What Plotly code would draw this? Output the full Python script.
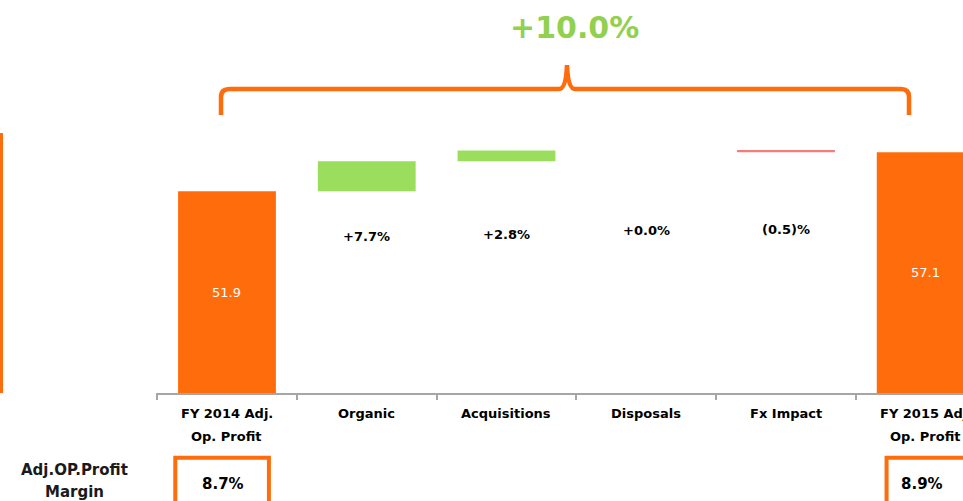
import plotly.graph_objects as go

# Datos del puente de beneficio operativo
categorias = ["FY 2014 Adj.<br>Op. Profit", "Organic", "Acquisitions", "Disposals", "Fx Impact", "FY 2015 Adj.<br>Op. Profit"]
medidas = ["absolute", "relative", "relative", "relative", "relative", "total"]
valores = [51.9, 4.0, 1.45, 0.0, -0.26, 0]
textos_barra = ["51.9", "", "", "", "", "57.1"]
totales_barra = [51.9, 0, 0, 0, 0, 57.1]
variaciones = ["", "+7.7%", "+2.8%", "+0.0%", "(0.5)%", ""]
y_variaciones = [0, 45.9, 46.2, 46.7, 46.8, 0]
margenes = ["8.7%", "", "", "", "", "8.9%"]
total_var = "+10.0%"

Y_MIN = 25
NARANJA = "#FF6C0C"
VERDE = "#9BDD5D"
ROJO = "#F47C7C"
FUENTE = "DejaVu Sans"

fig = go.Figure(go.Waterfall(
    x=list(range(len(categorias))),
    measure=medidas,
    y=valores,
    textposition="none",
    increasing=dict(marker=dict(color=VERDE)),
    decreasing=dict(marker=dict(color=ROJO)),
    totals=dict(marker=dict(color=NARANJA)),
    connector=dict(visible=False),
    hoverinfo="skip",
))

fig.update_layout(
    width=963, height=501,
    margin=dict(l=156, r=0, t=0, b=108),
    paper_bgcolor="white", plot_bgcolor="white",
    showlegend=False,
    waterfallgap=0.3,
    font=dict(family=FUENTE, color="black"),
)
fig.update_xaxes(
    type="linear", range=[-0.508, 5.267],
    showticklabels=False, showgrid=False, zeroline=False,
    showline=True, linecolor="#A6A6A6", linewidth=2,
    tickvals=[-0.5, 0.5, 1.5, 2.5, 3.5, 4.5, 5.5],
    ticks="outside", ticklen=5, tickwidth=1.5, tickcolor="#A6A6A6",
)
fig.update_yaxes(range=[Y_MIN, 77.4], visible=False)

# Valores dentro de las barras naranjas (centrados en la parte visible)
for i, (txt, v) in enumerate(zip(textos_barra, totales_barra)):
    if txt:
        fig.add_annotation(x=i, y=(Y_MIN + v) / 2, xref="x", yref="y", text=txt,
                           showarrow=False, font=dict(family=FUENTE, size=13, color="white"))

# Etiquetas de categoria (dos lineas con espaciado propio)
for i, cat in enumerate(categorias):
    for j, linea in enumerate(cat.split("<br>")):
        fig.add_annotation(x=i, y=0, xref="x", yref="paper", yshift=-20 - 23 * j,
                           yanchor="middle", text=f"<b>{linea}</b>", showarrow=False,
                           font=dict(family=FUENTE, size=13, color="black"))

# Variaciones porcentuales
for i, (txt, yv) in enumerate(zip(variaciones, y_variaciones)):
    if txt:
        fig.add_annotation(x=i, y=yv, xref="x", yref="y", text=f"<b>{txt}</b>",
                           showarrow=False, font=dict(family=FUENTE, size=13, color="black"))

# Cajas de margen
cajas = {0: (-0.37, 0.30), 5: (4.72, 5.6)}
for i, m in enumerate(margenes):
    if m:
        x0, x1 = cajas[i]
        fig.add_shape(type="rect", xref="x", yref="paper", x0=x0, x1=x1, y0=-0.165, y1=-0.4,
                      line=dict(color=NARANJA, width=4), fillcolor="white")
        fig.add_annotation(x=i - 0.03, y=0, xref="x", yref="paper",
                           yshift=-91, yanchor="middle",
                           text=f"<b>{m}</b>", showarrow=False,
                           font=dict(family=FUENTE, size=15, color="black"))

for texto, dy in [("Adj.OP.Profit", -77), ("Margin", -99)]:
    fig.add_annotation(x=0, y=0, xref="paper", yref="paper", xshift=-82, yshift=dy,
                       xanchor="center", yanchor="middle",
                       text=f"<b>{texto}</b>", showarrow=False,
                       font=dict(family=FUENTE, size=15, color="#1A1A1A"))

# Llave superior y texto total
def px(xp):
    return (xp - 156) / 807

def py(yp):
    return (393 - yp) / 393

camino = (f"M {px(221)},{py(115)} L {px(221)},{py(97)} Q {px(221)},{py(89)} {px(230)},{py(89)} "
          f"L {px(559)},{py(89)} Q {px(566)},{py(89)} {px(567)},{py(65)} "
          f"Q {px(568)},{py(89)} {px(575)},{py(89)} L {px(901)},{py(89)} "
          f"Q {px(909)},{py(89)} {px(909)},{py(97)} L {px(909)},{py(115)}")
fig.add_shape(type="path", xref="paper", yref="paper", path=camino,
              line=dict(color=NARANJA, width=4.5))
fig.add_annotation(x=px(574), y=py(28), xref="paper", yref="paper",
                   xanchor="center", yanchor="middle",
                   text=f"<b>{total_var}</b>", showarrow=False,
                   font=dict(family=FUENTE, size=30, color="#92D050"))

# Linea naranja recortada a la izquierda
fig.add_shape(type="rect", xref="paper", yref="paper", x0=px(0), x1=px(3), y0=py(393), y1=py(133),
              line=dict(width=0), fillcolor=NARANJA)

fig.write_html("out.html", config={"displayModeBar": False},
               post_script="document.body.style.margin='0px';")
